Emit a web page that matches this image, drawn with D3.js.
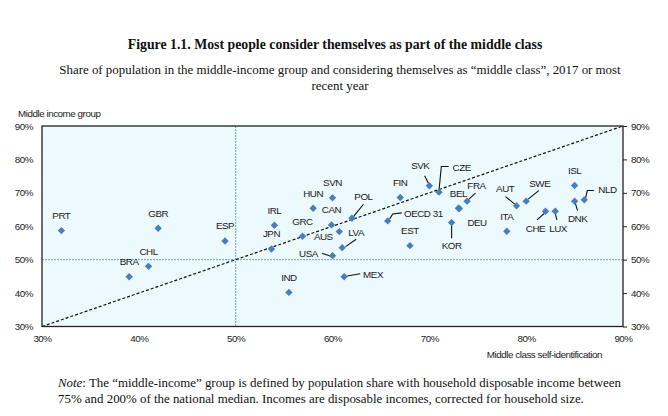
<!DOCTYPE html>
<html>
<head>
<meta charset="utf-8">
<script src="https://cdn.jsdelivr.net/npm/d3@7"></script>
<style>
html,body{margin:0;padding:0;background:#fff;}
svg{display:block;}
.lbl{font-family:"Liberation Sans",Arial,sans-serif;font-size:9.8px;letter-spacing:-0.45px;fill:#1a1a1a;}
.serif{font-family:"Liberation Serif","Times New Roman",serif;fill:#111;}
</style>
</head>
<body>
<svg id="chart" width="668" height="416"></svg>
<script>
// ---- data ----
const countries = ["PRT","GBR","ESP","BRA","CHL","IRL","JPN","HUN","SVN","CAN","GRC","AUS","USA","IND","MEX","LVA","POL","FIN","OECD 31","EST","SVK","CZE","BEL","FRA","KOR","DEU","AUT","SWE","ITA","CHE","LUX","ISL","DNK","NLD"];
const selfIdentification = [32.0,42.0,48.9,39.0,41.0,54.0,53.7,58.0,60.0,59.9,56.9,60.7,60.0,55.5,61.2,61.0,62.0,67.0,65.7,68.0,70.0,71.0,73.0,73.9,72.3,73.1,79.0,80.0,78.0,82.0,83.0,85.0,85.0,86.0];
const middleIncome = [58.7,59.4,55.6,44.9,48.0,60.3,53.2,65.4,68.5,60.4,57.0,58.4,51.2,40.2,44.9,53.6,62.4,68.6,61.6,54.2,72.1,70.2,65.4,67.5,61.1,65.3,66.1,67.5,58.5,64.5,64.5,72.2,67.5,67.9];
const tickValues = [30,40,50,60,70,80,90];
const tickLabels = ["30%","40%","50%","60%","70%","80%","90%"];

// ---- label layout (pixel offsets from marker) ----
const labelLayout = {
  "AUS":{dx:-16,dy:5},
  "USA":{dx:-24,dy:-2,leader:[[-10.6,-2.4],[-2.3,0.3]]},
  "MEX":{dx:19,dy:-2.5,anchor:"start",leader:[[3,-0.7],[16,-3]]},
  "LVA":{dx:14,dy:-15.4,leader:[[3.4,-1],[14,-8.4]]},
  "POL":{dx:11.6,dy:-21.6,leader:[[1.6,-1.6],[11.6,-14]]},
  "OECD 31":{dx:16.3,dy:-7.7,anchor:"start",leader:[[2,-2],[5,-7],[14,-8]]},
  "SVK":{dx:-9,dy:-20.3,leader:[[-4.7,-10],[-0.7,-2]]},
  "CZE":{dx:13.6,dy:-24.6,anchor:"start",leader:[[0,-1.6],[2.3,-25.6],[9.6,-25.6]]},
  "FRA":{dx:9.4,dy:-15.3,leader:[[1,-1.3],[8.4,-8]]},
  "KOR":{dx:0,dy:23,leader:[[0,2.3],[0,15.6]]},
  "DEU":{dx:17.7,dy:14.4},
  "AUT":{dx:-11.3,dy:-17.7,leader:[[-11,-9.3],[-1.7,-1.7]]},
  "SWE":{dx:13.6,dy:-17.3,leader:[[2,-2],[12.6,-10.6]]},
  "CHE":{dx:-10,dy:17,leader:[[-8.6,8.7],[-1,2]]},
  "LUX":{dx:2.8,dy:17,leader:[[0,2],[1.7,8.7]]},
  "DNK":{dx:3,dy:17,leader:[[0.7,2],[3,9.4]]},
  "NLD":{dx:14,dy:-10,anchor:"start",leader:[[1.3,-1.7],[3,-9.3],[9.6,-9.3]]}
};

const svg = d3.select("#chart");
const M = {left:42, right:623, top:126, bottom:326.5};
const x = d3.scaleLinear().domain([30,90]).range([M.left, M.right]);
const y = d3.scaleLinear().domain([30,90]).range([M.bottom, M.top]);

// titles
svg.append("text").attr("class","serif").attr("x",335).attr("y",49)
  .attr("text-anchor","middle").attr("font-weight","bold").attr("font-size","13.8px")
  .text("Figure 1.1. Most people consider themselves as part of the middle class");
svg.append("text").attr("class","serif").attr("x",340).attr("y",74)
  .attr("text-anchor","middle").attr("font-size","12.9px")
  .text("Share of population in the middle-income group and considering themselves as \u201cmiddle class\u201d, 2017 or most");
svg.append("text").attr("class","serif").attr("x",340).attr("y",90)
  .attr("text-anchor","middle").attr("font-size","12.9px").text("recent year");

// plot background
svg.append("rect").attr("x",M.left).attr("y",M.top)
  .attr("width",M.right-M.left).attr("height",M.bottom-M.top)
  .attr("fill","#ecf9fd");

// reference lines
svg.append("line").attr("x1",x(50)).attr("x2",x(50)).attr("y1",M.top).attr("y2",M.bottom)
  .attr("stroke","#6d9fdc").attr("stroke-width",1).attr("stroke-dasharray","2,1");
svg.append("line").attr("x1",M.left).attr("x2",M.right).attr("y1",y(50)).attr("y2",y(50))
  .attr("stroke","#6d9fdc").attr("stroke-width",1).attr("stroke-dasharray","2,1");
svg.append("line").attr("x1",x(30)).attr("y1",y(30)).attr("x2",x(90)).attr("y2",y(90))
  .attr("stroke","#111").attr("stroke-width",1.2).attr("stroke-dasharray","3,2");

// frame
svg.append("rect").attr("x",M.left).attr("y",M.top)
  .attr("width",M.right-M.left).attr("height",M.bottom-M.top)
  .attr("fill","none").attr("stroke","#222").attr("stroke-width",1.3);

// axes
const fmt = d => tickLabels[tickValues.indexOf(d)];
const gL = svg.append("g").attr("transform",`translate(${M.left},0)`)
  .call(d3.axisLeft(y).tickValues(tickValues).tickFormat(fmt).tickSize(0).tickPadding(9));
const gR = svg.append("g").attr("transform",`translate(${M.right},0)`)
  .call(d3.axisRight(y).tickValues(tickValues).tickFormat(fmt).tickSize(4).tickPadding(4));
const gB = svg.append("g").attr("transform",`translate(0,${M.bottom})`)
  .call(d3.axisBottom(x).tickValues(tickValues).tickFormat(fmt).tickSize(0).tickPadding(9));
[gL,gR,gB].forEach(g=>{
  g.select(".domain").remove();
  g.selectAll("line").attr("stroke","#222");
  g.selectAll("text").attr("class","lbl").attr("font-family",null).attr("font-size",null);
});

// axis titles
svg.append("text").attr("class","lbl").attr("x",18).attr("y",117).text("Middle income group");
svg.append("text").attr("class","lbl").attr("x",602).attr("y",358).attr("text-anchor","end")
  .text("Middle class self-identification");

// points
const pts = countries.map((c,i)=>({c, sx:x(selfIdentification[i]), sy:y(middleIncome[i])}));
const diamond = d3.symbol().type(d3.symbolSquare).size(27);

// leaders
const lineGen = d3.line();
pts.forEach(p=>{
  const L = labelLayout[p.c];
  if (L && L.leader) {
    svg.append("path").attr("d", lineGen(L.leader.map(q=>[p.sx+q[0], p.sy+q[1]])))
      .attr("fill","none").attr("stroke","#111").attr("stroke-width",1.1);
  }
});

svg.append("g").selectAll("path").data(pts).join("path")
  .attr("d", diamond)
  .attr("transform", d=>`translate(${d.sx},${d.sy}) rotate(45)`)
  .attr("fill","#4a7ebb");

// labels
svg.append("g").selectAll("text").data(pts).join("text")
  .attr("class","lbl")
  .attr("x", d=> d.sx + ((labelLayout[d.c]||{}).dx ?? 0))
  .attr("y", d=> d.sy + ((labelLayout[d.c]||{}).dy ?? -15))
  .attr("dy","0.35em")
  .attr("text-anchor", d=> (labelLayout[d.c]||{}).anchor || "middle")
  .text(d=>d.c);

// note
const note1 = svg.append("text").attr("class","serif").attr("x",58).attr("y",387).attr("font-size","12.9px");
note1.append("tspan").attr("font-style","italic").text("Note");
note1.append("tspan").text(": The \u201cmiddle-income\u201d group is defined by population share with household disposable income between");
svg.append("text").attr("class","serif").attr("x",58).attr("y",403).attr("font-size","12.9px")
  .text("75% and 200% of the national median. Incomes are disposable incomes, corrected for household size.");
</script>
</body>
</html>
